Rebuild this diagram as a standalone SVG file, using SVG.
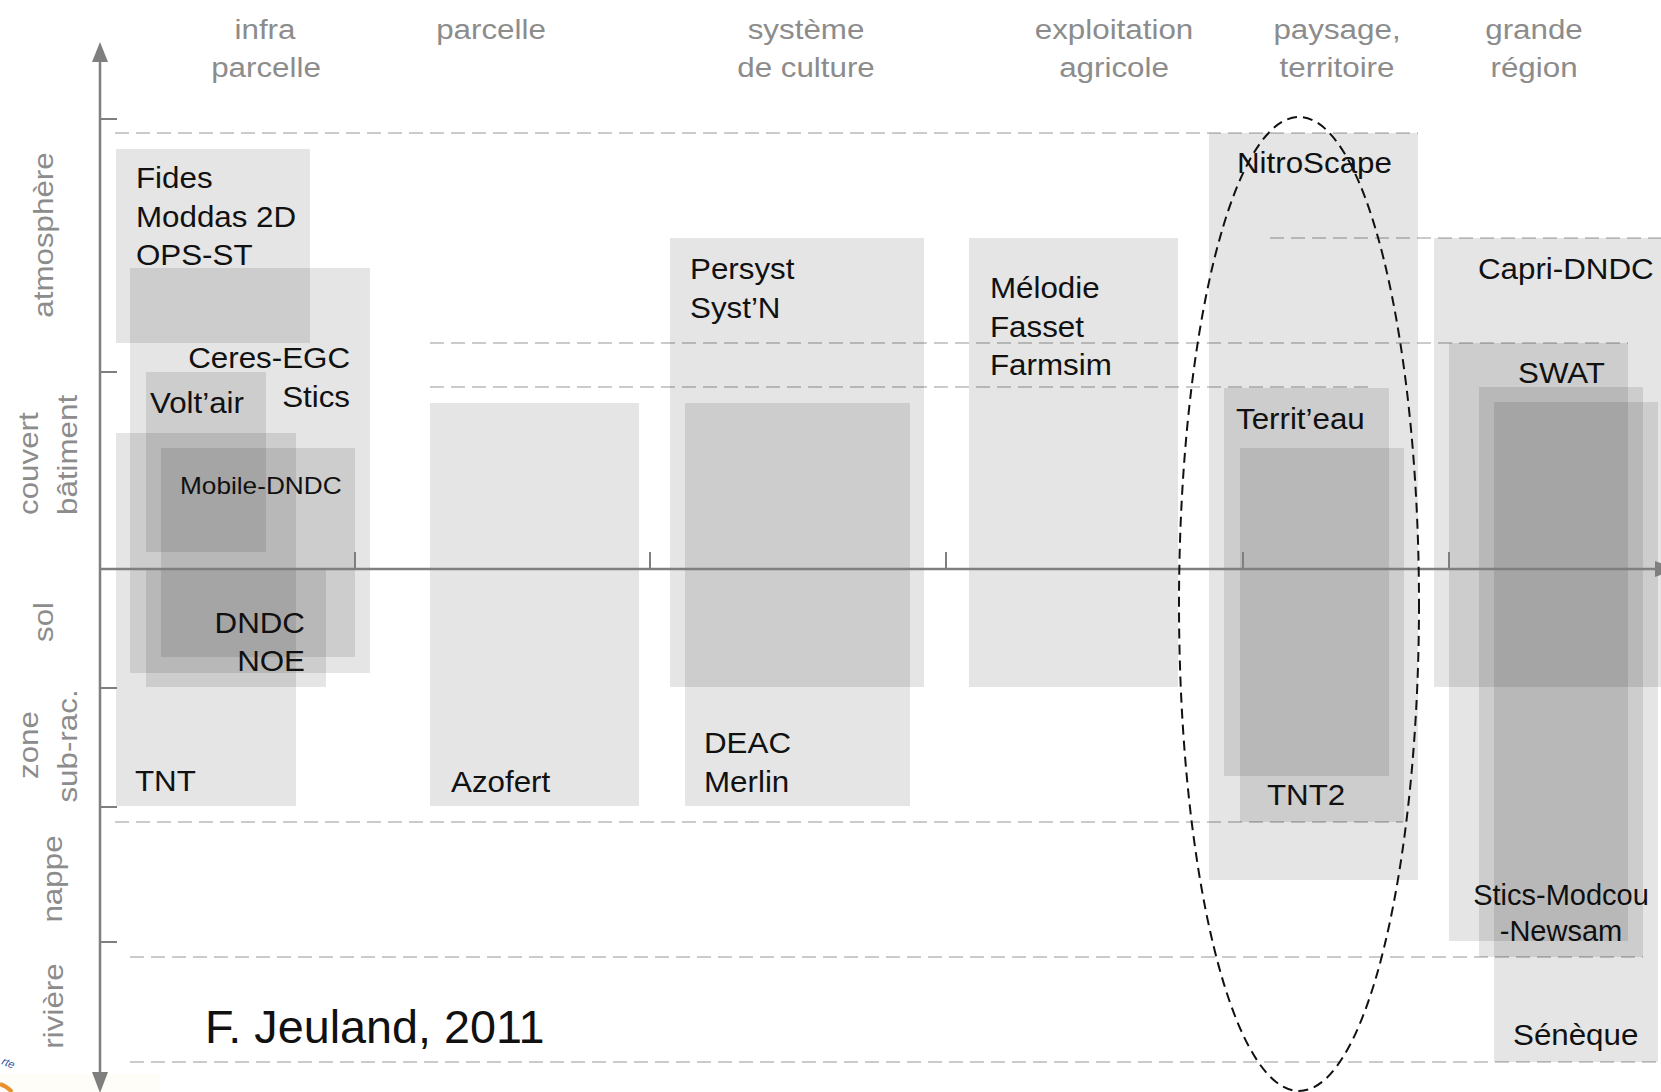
<svg xmlns="http://www.w3.org/2000/svg" width="1661" height="1092" viewBox="0 0 1661 1092">
<style>
.box{fill:#000;fill-opacity:.1}
.lbl{font-family:"Liberation Sans",Arial,sans-serif;font-size:29px;fill:#111}
.sm{font-size:24.5px}
.big{font-size:46.5px}
.hdr{font-family:"Liberation Sans",Arial,sans-serif;font-size:27.5px;fill:#8c8c8c;text-anchor:middle}
.end{text-anchor:end}
.mid{text-anchor:middle}
.dash{stroke:#cbcbcb;stroke-width:2;stroke-dasharray:14 7;fill:none}
.axis{stroke:#7f7f7f;stroke-width:2.5;fill:none}
.tick{stroke:#7f7f7f;stroke-width:2}
.head{fill:#7f7f7f}
.oval{fill:none;stroke:#111;stroke-width:2;stroke-dasharray:10 6}
</style>
<rect width="1661" height="1092" fill="#fff"/>
<rect x="0" y="1074" width="160" height="18" fill="#fffdf8"/>

<g id="headers">
<text class="hdr" transform="translate(265 39) scale(1.14 1)">infra</text>
<text class="hdr" transform="translate(266 77) scale(1.14 1)">parcelle</text>
<text class="hdr" transform="translate(491 39) scale(1.14 1)">parcelle</text>
<text class="hdr" transform="translate(806 39) scale(1.14 1)">système</text>
<text class="hdr" transform="translate(806 77) scale(1.14 1)">de culture</text>
<text class="hdr" transform="translate(1114 39) scale(1.14 1)">exploitation</text>
<text class="hdr" transform="translate(1114 77) scale(1.14 1)">agricole</text>
<text class="hdr" transform="translate(1337 39) scale(1.14 1)">paysage,</text>
<text class="hdr" transform="translate(1337 77) scale(1.14 1)">territoire</text>
<text class="hdr" transform="translate(1534 39) scale(1.14 1)">grande</text>
<text class="hdr" transform="translate(1534 77) scale(1.14 1)">région</text>
</g>

<g id="layers">
<text class="hdr" transform="translate(53 235) rotate(-90) scale(1.14 1)">atmosphère</text>
<text class="hdr" style="text-anchor:start" transform="translate(38 515) rotate(-90) scale(1.14 1)">couvert</text>
<text class="hdr" style="text-anchor:start" transform="translate(77 515) rotate(-90) scale(1.14 1)">bâtiment</text>
<text class="hdr" transform="translate(53 622) rotate(-90) scale(1.14 1)">sol</text>
<text class="hdr" transform="translate(38 745) rotate(-90) scale(1.14 1)">zone</text>
<text class="hdr" transform="translate(77 746) rotate(-90) scale(1.14 1)">sub-rac.</text>
<text class="hdr" transform="translate(62 879) rotate(-90) scale(1.14 1)">nappe</text>
<text class="hdr" transform="translate(63 1006) rotate(-90) scale(1.14 1)">rivière</text>
</g>

<g id="gridlines">
<line class="dash" x1="115" y1="133" x2="1418" y2="133"/>
<line class="dash" x1="1270" y1="238" x2="1661" y2="238"/>
<line class="dash" x1="430" y1="343" x2="1628" y2="343"/>
<line class="dash" x1="430" y1="387" x2="1375" y2="387"/>
<line class="dash" x1="115" y1="822" x2="1403" y2="822"/>
<line class="dash" x1="130" y1="957" x2="1643" y2="957"/>
<line class="dash" x1="130" y1="1062" x2="1658" y2="1062"/>
</g>

<g id="n-fides"><rect class="box" x="116" y="149" width="194" height="194"/>
<text class="lbl" transform="translate(136 188) scale(1.08 1)">Fides</text>
<text class="lbl" transform="translate(136 227) scale(1.08 1)">Moddas 2D</text>
<text class="lbl" transform="translate(136 265) scale(1.08 1)">OPS-ST</text></g>
<g id="n-ceres"><rect class="box" x="130" y="268" width="240" height="405"/>
<text class="lbl end" transform="translate(350 368) scale(1.08 1)">Ceres-EGC</text>
<text class="lbl end" transform="translate(350 407) scale(1.08 1)">Stics</text></g>
<g id="n-voltair"><rect class="box" x="146" y="372" width="120" height="180"/>
<text class="lbl" transform="translate(150 413) scale(1.08 1)">Volt’air</text></g>
<g id="n-tnt"><rect class="box" x="116" y="433" width="180" height="373"/>
<text class="lbl" transform="translate(135 791) scale(1.08 1)">TNT</text></g>
<g id="n-mobile"><rect class="box" x="161" y="448" width="194" height="209"/>
<text class="lbl sm" transform="translate(180 494) scale(1.07 1)">Mobile-DNDC</text></g>
<g id="n-dndc"><rect class="box" x="146" y="569" width="180" height="118"/>
<text class="lbl end" transform="translate(305 633) scale(1.08 1)">DNDC</text>
<text class="lbl end" transform="translate(305 671) scale(1.08 1)">NOE</text></g>
<g id="n-azofert"><rect class="box" x="430" y="403" width="209" height="403"/>
<text class="lbl" transform="translate(451 792) scale(1.08 1)">Azofert</text></g>
<g id="n-persyst"><rect class="box" x="670" y="238" width="254" height="449"/>
<text class="lbl" transform="translate(690 279) scale(1.08 1)">Persyst</text>
<text class="lbl" transform="translate(690 318) scale(1.08 1)">Syst’N</text></g>
<g id="n-deac"><rect class="box" x="685" y="403" width="225" height="403"/>
<text class="lbl" transform="translate(704 753) scale(1.08 1)">DEAC</text>
<text class="lbl" transform="translate(704 792) scale(1.08 1)">Merlin</text></g>
<g id="n-melodie"><rect class="box" x="969" y="238" width="209" height="449"/>
<text class="lbl" transform="translate(990 298) scale(1.08 1)">Mélodie</text>
<text class="lbl" transform="translate(990 337) scale(1.08 1)">Fasset</text>
<text class="lbl" transform="translate(990 375) scale(1.08 1)">Farmsim</text></g>
<g id="n-nitroscape"><rect class="box" x="1209" y="133" width="209" height="747"/>
<text class="lbl" transform="translate(1237 173) scale(1.08 1)">NitroScape</text></g>
<g id="n-territeau"><rect class="box" x="1224" y="388" width="165" height="388"/>
<text class="lbl" transform="translate(1236 429) scale(1.08 1)">Territ’eau</text></g>
<g id="n-tnt2"><rect class="box" x="1240" y="448" width="164" height="374"/>
<text class="lbl" transform="translate(1267 805) scale(1.08 1)">TNT2</text></g>
<g id="n-capri"><rect class="box" x="1434" y="238" width="240" height="449"/>
<text class="lbl" transform="translate(1478 279) scale(1.08 1)">Capri-DNDC</text></g>
<g id="n-swat"><rect class="box" x="1449" y="343" width="179" height="598"/>
<text class="lbl" transform="translate(1518 383) scale(1.08 1)">SWAT</text></g>
<g id="n-modcou"><rect class="box" x="1479" y="387" width="164" height="570"/>
<text class="lbl mid" transform="translate(1561 905) scale(1.0 1)">Stics-Modcou</text>
<text class="lbl mid" transform="translate(1561 941) scale(1.0 1)">-Newsam</text></g>
<g id="n-seneque"><rect class="box" x="1494" y="402" width="164" height="660"/>
<text class="lbl" transform="translate(1513 1045) scale(1.08 1)">Sénèque</text></g>

<g id="connectors">
<line class="axis" x1="100" y1="58" x2="100" y2="1076"/>
<polygon class="head" points="100,42 92,62 108,62"/>
<polygon class="head" points="100,1093 92,1072 108,1072"/>
<line class="axis" x1="100" y1="569" x2="1656" y2="569"/>
<polygon class="head" points="1676,569 1655,561 1655,577"/>
<line class="tick" x1="100" y1="119" x2="117" y2="119"/>
<line class="tick" x1="100" y1="372" x2="117" y2="372"/>
<line class="tick" x1="100" y1="688" x2="117" y2="688"/>
<line class="tick" x1="100" y1="807" x2="117" y2="807"/>
<line class="tick" x1="100" y1="942" x2="117" y2="942"/>
<line class="tick" x1="355" y1="552" x2="355" y2="569"/>
<line class="tick" x1="650" y1="552" x2="650" y2="569"/>
<line class="tick" x1="946" y1="552" x2="946" y2="569"/>
<line class="tick" x1="1243" y1="552" x2="1243" y2="569"/>
<line class="tick" x1="1449" y1="552" x2="1449" y2="569"/>
<ellipse class="oval" cx="1299" cy="604" rx="120" ry="487"/>
</g>

<g id="credit">
<text class="lbl big" transform="translate(205 1043) scale(1.005 1)">F. Jeuland, 2011</text>
</g>
<g id="logo-fragment">
<path d="M0,1084 A 30 30 0 0 1 12,1092" fill="none" stroke="#e8902a" stroke-width="4"/>
<text transform="translate(1 1064) rotate(22)" style="font-family:'Liberation Sans',Arial,sans-serif;font-size:11px;font-style:italic;fill:#2b4f9e">rte</text>
</g>
</svg>
